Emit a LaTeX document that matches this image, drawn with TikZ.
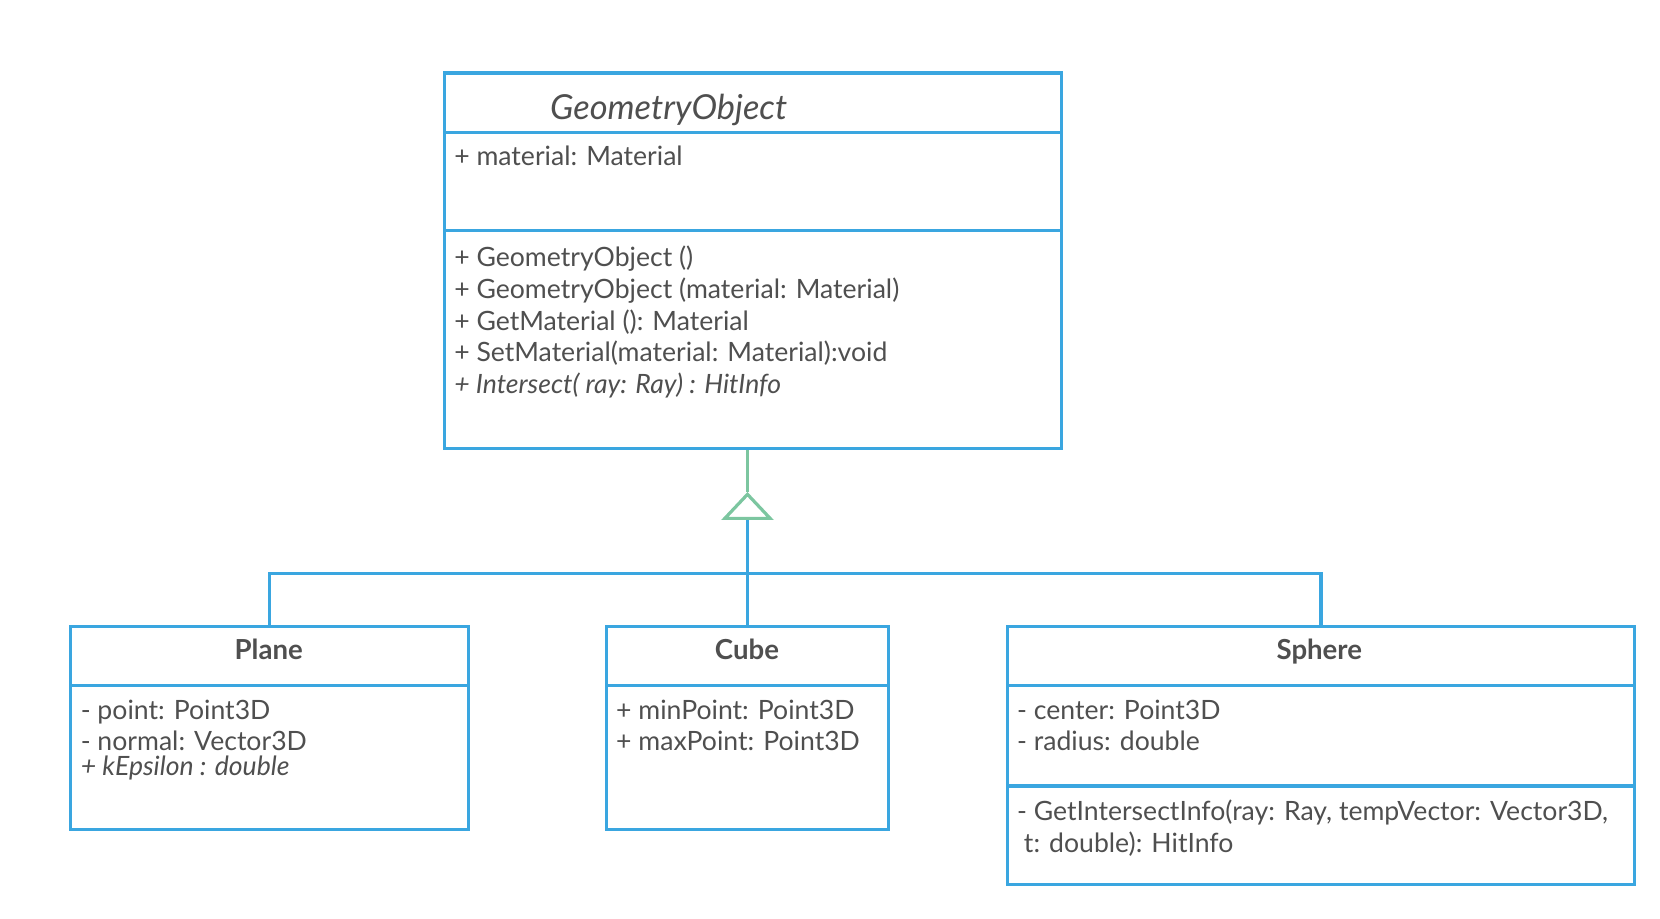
\documentclass[tikz,border=0pt]{standalone}
\usepackage{fontspec}
\setmainfont{Lato}
\usetikzlibrary{positioning,fit,arrows.meta}
\definecolor{umlblue}{HTML}{3AA6E0}
\definecolor{umlgreen}{HTML}{7CC6A0}
\definecolor{umltext}{HTML}{4F4F4F}

\begin{document}
\begin{tikzpicture}[x=0.529pt, y=-0.529pt, cls/.style={draw=umlblue, line width=1.6pt, inner sep=0pt}, sep/.style={draw=umlblue, line width=1.6pt}, t/.style={text=umltext, font=\fontsize{13.3}{15.9}\selectfont, align=left, anchor=north west, inner sep=0pt}, ttl/.style={text=umltext, font=\fontsize{13.8}{16}\selectfont\bfseries, inner sep=0pt, anchor=base}, gen/.style={draw=umlblue, line width=1.6pt}, inh/.style={draw=umlgreen, line width=1.6pt}]
		\useasboundingbox (0,0) rectangle (1569,868);
		\node[cls, fit={(420,69) (1003,424)}] (GO) {};
		\node[cls, fit={(67,592) (443,784)}] (Plane) {};
		\node[cls, fit={(573,592) (840,784)}] (Cube) {};
		\node[cls, fit={(952,592) (1545,836)}] (Sphere) {};
		\draw[sep] (420,125) -- (1003,125);
		\draw[sep] (420,218) -- (1003,218);
		\draw[sep] (67,648) -- (443,648);
		\draw[sep] (573,648) -- (840,648);
		\draw[sep] (952,648) -- (1545,648);
		\draw[sep] (952,743) -- (1545,743);

		\node[text=umltext, font=\fontsize{17.2}{20}\selectfont\itshape, inner sep=0pt] (GO_name) at (632,104) {GeometryObject};
		\node[t] (GO_attr) at (429,138) {+ material: Material};
		\node[t] (GO_ops) at (429,232) {+ GeometryObject ()\\+ GeometryObject (material: Material)\\+ GetMaterial (): Material\\+ SetMaterial(material: Material):void\\\textit{+ Intersect( ray: Ray) : HitInfo}};
		\node[ttl] (Plane_name) at (254,623) {Plane};
		\node[t] (Plane_attr) at (76,661) {- point: Point3D\\- normal: Vector3D\\[-3.5pt]\textit{+ kEpsilon : double}};
		\node[ttl] (Cube_name) at (706,623) {Cube};
		\node[t] (Cube_attr) at (582,661) {+ minPoint: Point3D\\+ maxPoint: Point3D};
		\node[ttl] (Sphere_name) at (1247,623) {Sphere};
		\node[t] (Sphere_attr) at (961,661) {- center: Point3D\\- radius: double};
		\node[t] (Sphere_ops) at (961,756) {- GetIntersectInfo(ray: Ray, tempVector: Vector3D,\\\ t: double): HitInfo};

		\coordinate (bar) at (706.5,542);
		\coordinate (tipbase) at (706.5,491);
		\coordinate (tipapex) at (706.5,465);
		\path[gen] (Plane.north) |- (bar) -| (Sphere.north);
		\path[gen] (Cube.north) -- (tipbase);
		\path[inh, -{Triangle[open, length=14pt, width=26pt]}] (tipbase) -- (tipapex);
		\path[inh] (tipapex) -- (GO.south -| tipapex);
	\end{tikzpicture}
\end{document}
